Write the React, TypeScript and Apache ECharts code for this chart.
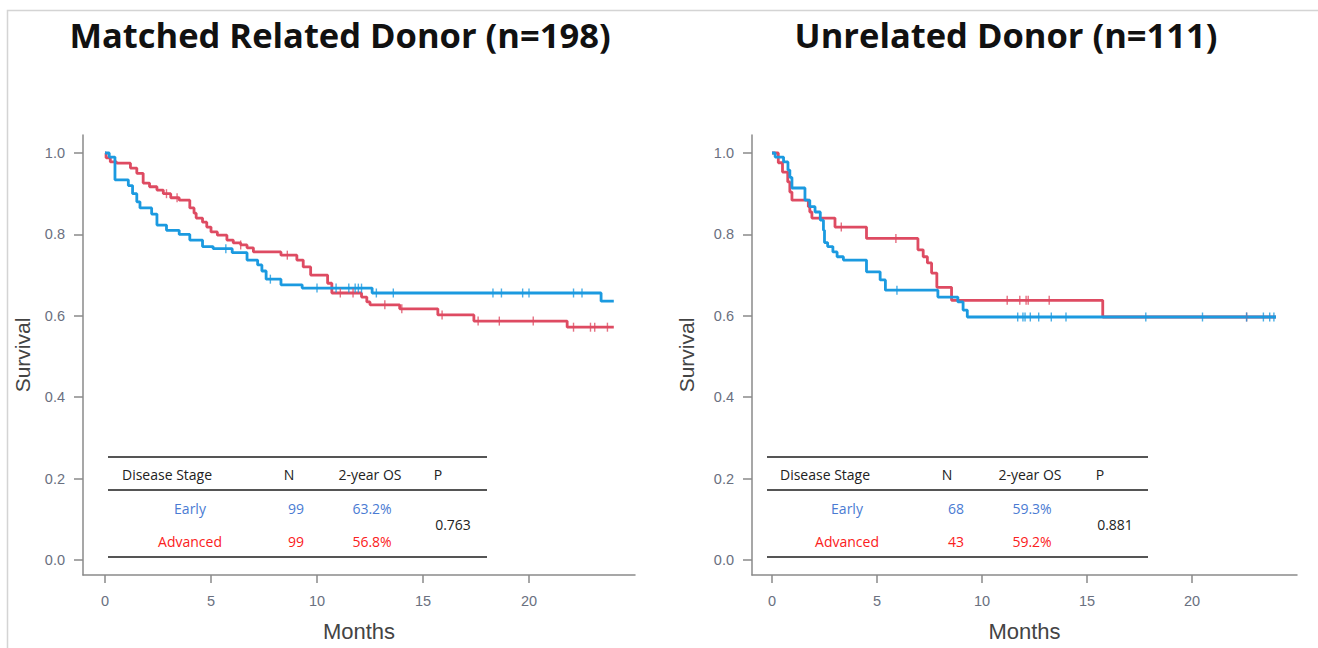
import React, { useEffect, useRef } from "react";
import * as echarts from "echarts";

// ---------- data ----------
const panelTitles = ["Matched Related Donor (n=198)", "Unrelated Donor (n=111)"];
const groupNames = ["Early", "Advanced"];
const tableHeader = ["Disease Stage", "N", "2-year OS", "P"];
const nValues = [["99", "99"], ["68", "43"]];
const osValues = [["63.2%", "56.8%"], ["59.3%", "59.2%"]];
const pValues = ["0.763", "0.881"];
const xTicks = [0, 5, 10, 15, 20];
const yTicks = [0, 0.2, 0.4, 0.6, 0.8, 1.0];

// Kaplan-Meier steps [month, survival]
const mrdEarly: number[][] = [
  [0, 1.0], [0.2, 0.99], [0.47, 0.934], [1.1, 0.92], [1.3, 0.9], [1.5, 0.88], [1.65, 0.865],
  [2.2, 0.85], [2.45, 0.823], [2.9, 0.81], [3.5, 0.8], [4.0, 0.786], [4.6, 0.77], [5.1, 0.765],
  [6.0, 0.755], [6.7, 0.737], [7.2, 0.725], [7.4, 0.71], [7.6, 0.69], [8.3, 0.676], [9.3, 0.668],
  [12.6, 0.656], [23.4, 0.636], [24, 0.636],
];
const mrdAdvanced: number[][] = [
  [0, 1.0], [0.05, 0.988], [0.25, 0.978], [0.55, 0.975], [1.2, 0.963], [1.5, 0.95], [1.8, 0.926],
  [2.1, 0.917], [2.45, 0.909], [2.75, 0.9], [3.1, 0.89], [3.5, 0.884], [4.0, 0.865], [4.2, 0.852],
  [4.3, 0.84], [4.6, 0.83], [4.8, 0.818], [5.0, 0.806], [5.3, 0.798], [5.75, 0.786], [6.05, 0.779],
  [6.4, 0.774], [6.7, 0.767], [7.0, 0.757], [8.3, 0.749], [9.05, 0.737], [9.35, 0.72], [9.7, 0.7],
  [10.5, 0.68], [10.7, 0.656], [12.1, 0.646], [12.35, 0.634], [12.5, 0.627], [13.9, 0.617],
  [15.7, 0.602], [17.4, 0.587], [21.8, 0.572], [24, 0.572],
];
const urdEarly: number[][] = [
  [0, 1.0], [0.15, 0.99], [0.55, 0.978], [0.76, 0.958], [0.85, 0.94], [0.95, 0.914], [1.57, 0.884],
  [1.8, 0.868], [2.05, 0.855], [2.3, 0.835], [2.45, 0.81], [2.5, 0.78], [2.65, 0.77], [2.9, 0.757],
  [3.1, 0.745], [3.4, 0.737], [4.5, 0.708], [5.15, 0.688], [5.4, 0.663], [7.9, 0.646], [8.85, 0.634],
  [9.1, 0.614], [9.3, 0.597], [24, 0.597],
];
const urdAdvanced: number[][] = [
  [0, 1.0], [0.3, 0.976], [0.5, 0.953], [0.75, 0.929], [0.85, 0.904], [0.95, 0.884], [1.73, 0.868],
  [1.8, 0.855], [1.9, 0.84], [3.0, 0.818], [4.5, 0.79], [6.95, 0.762], [7.2, 0.745], [7.4, 0.73],
  [7.6, 0.705], [7.85, 0.67], [8.55, 0.638], [15.75, 0.597], [24, 0.597],
];
// censoring times (months)
const mrdEarlyCensor = [5.7, 7.8, 10.0, 10.9, 11.5, 11.8, 11.95, 12.1, 12.8, 13.6, 18.3, 18.7, 19.7, 20.0, 22.1, 22.5];
const mrdAdvancedCensor = [2.9, 3.4, 6.4, 8.6, 11.1, 11.7, 13.2, 14.0, 15.9, 17.6, 18.6, 20.2, 22.1, 22.9, 23.1, 23.7];
const urdEarlyCensor = [5.95, 11.7, 11.95, 12.05, 12.3, 12.7, 13.3, 14.0, 17.8, 20.5, 22.6, 23.4, 23.7, 23.9];
const urdAdvancedCensor = [3.3, 5.9, 11.2, 11.8, 12.1, 12.2, 13.2, 22.6];

// ---------- styles ----------
const BLUE = "#1b9ae0";
const RED = "#de4b62";
const EARLY_TXT = "#4a7bd3";
const ADV_TXT = "#fb2020";
const AXIS = "#8a8a8a";
const TICKLBL = "#6a7080";

function survAt(steps: number[][], t: number) {
  let s = steps[0][1];
  for (const [x, y] of steps) {
    if (x <= t) s = y;
    else break;
  }
  return s;
}

export default function App() {
  const ref = useRef<HTMLDivElement>(null);
  useEffect(() => {
    if (!ref.current) return;
    const chart = echarts.init(ref.current, null, { renderer: "svg" });

    const panels = [
      { left: 83, width: 552, xmin: -1.038, xmax: 25.0, early: mrdEarly, adv: mrdAdvanced, ec: mrdEarlyCensor, ac: mrdAdvancedCensor },
      { left: 752, width: 545, xmin: -0.952, xmax: 25.0, early: urdEarly, adv: urdAdvanced, ec: urdEarlyCensor, ac: urdAdvancedCensor },
    ];
    const top = 135;
    const height = 440;
    const ymin = -0.0369;
    const ymax = 1.0442;

    const grid = panels.map((p) => ({ left: p.left, top, width: p.width, height }));
    const xAxis = panels.map((p, i) => ({
      type: "value",
      gridIndex: i,
      min: p.xmin,
      max: p.xmax,
      name: "Months",
      nameLocation: "middle",
      nameGap: 45,
      nameTextStyle: { fontFamily: "Liberation Sans, Arial", fontSize: 22, color: "#444" },
      splitLine: { show: false },
      axisLine: { show: true, onZero: false, lineStyle: { color: AXIS, width: 1.5 } },
      axisTick: { show: true, length: 8, lineStyle: { color: AXIS, width: 1.5 }, customValues: xTicks },
      axisLabel: {
        margin: 18,
        color: TICKLBL,
        fontSize: 14.5,
        fontFamily: "Liberation Sans, Arial",
        customValues: xTicks,
        formatter: (v: number) => String(v),
      },
    }));
    const yAxis = panels.map((p, i) => ({
      type: "value",
      gridIndex: i,
      min: ymin,
      max: ymax,
      name: "Survival",
      nameLocation: "middle",
      nameGap: i === 0 ? 50 : 55,
      nameTextStyle: { fontFamily: "Liberation Sans, Arial", fontSize: 21, color: "#444" },
      splitLine: { show: false },
      axisLine: { show: true, onZero: false, lineStyle: { color: AXIS, width: 1.5 } },
      axisTick: { show: true, length: 9, lineStyle: { color: AXIS, width: 1.5 }, customValues: yTicks },
      axisLabel: {
        margin: 18,
        color: TICKLBL,
        fontSize: 14.5,
        fontFamily: "Liberation Sans, Arial",
        customValues: yTicks,
        formatter: (v: number) => v.toFixed(1),
      },
    }));

    const series: any[] = [];
    panels.forEach((p, i) => {
      const curves = [
        { steps: p.adv, cens: p.ac, color: RED, name: "Advanced" },
        { steps: p.early, cens: p.ec, color: BLUE, name: "Early" },
      ];
      curves.forEach((c) => {
        series.push({
          type: "line",
          name: c.name,
          xAxisIndex: i,
          yAxisIndex: i,
          step: "end",
          showSymbol: false,
          symbol: "none",
          data: c.steps,
          lineStyle: { color: c.color, width: 2.8 },
          z: 3,
        });
        series.push({
          type: "scatter",
          xAxisIndex: i,
          yAxisIndex: i,
          symbol: "rect",
          symbolSize: [1.4, 9],
          itemStyle: { color: c.color },
          data: c.cens.map((t) => [t, survAt(c.steps, t)]),
          z: 4,
        });
      });
    });

    // tables
    const tableGeom = [
      { x0: 108, x1: 487, dsX: 122, earlyX: 190, nX: 289, nValX: 296, osX: 370, pX: 438, pValX: 453 },
      { x0: 767, x1: 1148, dsX: 780, earlyX: 847, nX: 947, nValX: 956, osX: 1030, pX: 1100, pValX: 1115 },
    ];
    const tf = "Open Sans, Noto Sans, sans-serif";
    const graphics: any[] = [];
    graphics.push({
      type: "rect",
      shape: { x: 7.5, y: 10.5, width: 1330, height: 660 },
      style: { fill: "none", stroke: "#d4d4d4", lineWidth: 1.5 },
      silent: true,
    });
    const titleX = [340, 1006];
    panelTitles.forEach((t, i) => {
      graphics.push({
        type: "text",
        x: titleX[i],
        y: 34,
        style: {
          text: t,
          fill: "#111",
          font: "bold 34.5px 'Open Sans', 'Noto Sans', sans-serif",
          textAlign: "center",
          textVerticalAlign: "middle",
        },
      });
    });
    tableGeom.forEach((g, i) => {
      [457, 490, 557].forEach((y) => {
        graphics.push({
          type: "line",
          shape: { x1: g.x0, y1: y, x2: g.x1, y2: y },
          style: { stroke: "#555", lineWidth: 2 },
        });
      });
      const txt = (text: string, x: number, y: number, color: string, align = "center") => ({
        type: "text",
        x,
        y,
        style: { text, fill: color, font: `14px ${tf}`, textAlign: align, textVerticalAlign: "middle" },
      });
      graphics.push(txt(tableHeader[0], g.dsX, 474, "#222", "left"));
      graphics.push(txt(tableHeader[1], g.nX, 474, "#222"));
      graphics.push(txt(tableHeader[2], g.osX, 474, "#222"));
      graphics.push(txt(tableHeader[3], g.pX, 474, "#222"));
      graphics.push(txt(groupNames[0], g.earlyX, 508, EARLY_TXT));
      graphics.push(txt(groupNames[1], g.earlyX, 541, ADV_TXT));
      graphics.push(txt(nValues[i][0], g.nValX, 508, EARLY_TXT));
      graphics.push(txt(nValues[i][1], g.nValX, 541, ADV_TXT));
      graphics.push(txt(osValues[i][0], g.osX + 2, 508, EARLY_TXT));
      graphics.push(txt(osValues[i][1], g.osX + 2, 541, ADV_TXT));
      graphics.push(txt(pValues[i], g.pValX, 524, "#222"));
    });

    chart.setOption({
      animation: false,
      backgroundColor: "#ffffff",
      grid,
      xAxis,
      yAxis,
      series,
      graphic: graphics,
    });
    return () => chart.dispose();
  }, []);

  return (
    <div
      ref={ref}
      style={{ position: "fixed", left: 0, top: 0, width: 1318, height: 648, background: "#fff" }}
    />
  );
}
